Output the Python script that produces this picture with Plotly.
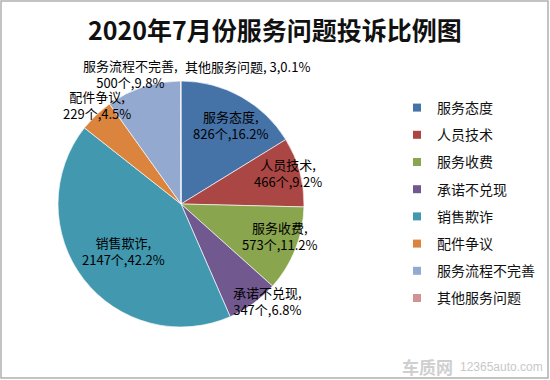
import math
import plotly.graph_objects as go

# ---- data ----
categories = ["服务态度", "人员技术", "服务收费", "承诺不兑现", "销售欺诈", "配件争议", "服务流程不完善", "其他服务问题"]
counts = [826, 466, 573, 347, 2147, 229, 500, 3]
percents = [16.2, 9.2, 11.2, 6.8, 42.2, 4.5, 9.8, 0.1]
title_text = "2020年7月份服务问题投诉比例图"

# ---- style ----
colors = ["#4572A7", "#AA4643", "#89A54E", "#71588F", "#4198AF", "#DB843D", "#93A9CF", "#D19392"]
W, H = 550, 380
CX, CY, R = 181, 204, 123          # pie centre / radius in pixels
label_k = [0.76, 0.90, 0.84, 1.05, 0.64, 1.06, 1.12, 1.12]   # radial position of labels (fraction of R)
label_shift = [(4, 3), (0, -2), (3, -6), (11, -8), (5, -1), (6, -5), (-8, 1), (2, 0)]
label_anchor = ["center"] * 7 + ["left"]
FONT = "Noto Sans CJK SC"

fig = go.Figure()

fig.add_trace(go.Pie(
    labels=categories,
    values=counts,
    sort=False,
    direction="clockwise",
    rotation=0,
    marker=dict(colors=colors, line=dict(color="rgba(255,255,255,0.8)", width=0.8)),
    textinfo="none",
    textposition="none",
    hoverinfo="label+value+percent",
    showlegend=False,
    domain=dict(x=[(CX - R) / W, (CX + R) / W], y=[1 - (CY + R) / H, 1 - (CY - R) / H]),
))

# legend entries (one per category, so that spacing can be set)
for name, col in zip(categories, colors):
    fig.add_trace(go.Scatter(
        x=[None], y=[None], mode="markers", name=name, legendgroup=name,
        marker=dict(symbol="square", size=8, color=col), hoverinfo="skip",
    ))

# data labels, positioned from the slice angles
total = sum(counts)
cum = 0
annotations = []
for i, (name, v, p) in enumerate(zip(categories, counts, percents)):
    mid = (cum + v / 2) / total * 2 * math.pi
    cum += v
    px = CX + label_k[i] * R * math.sin(mid) + label_shift[i][0]
    py = CY - label_k[i] * R * math.cos(mid) + label_shift[i][1]
    if i == len(categories) - 1:
        txt = f"{name}, {v},{p}%"
    else:
        txt = f"{name},<br>{v}个,{p}%"
    annotations.append(dict(
        x=px / W, y=1 - py / H, xref="paper", yref="paper",
        text=txt, showarrow=False, xanchor=label_anchor[i], yanchor="middle",
        align="center", font=dict(family=FONT, size=13, color="#000000"),
    ))

# watermark
annotations.append(dict(x=455 / W, y=1 - 366 / H, xref="paper", yref="paper", text="<b>车质网</b>",
                        showarrow=False, xanchor="right", yanchor="middle",
                        font=dict(family=FONT, size=17, color="#cfcfcf")))
annotations.append(dict(x=458 / W, y=1 - 367 / H, xref="paper", yref="paper", text="12365auto.com",
                        showarrow=False, xanchor="left", yanchor="middle",
                        font=dict(family="Liberation Sans", size=12, color="#c8c8c8")))

fig.update_layout(
    width=W, height=H,
    margin=dict(l=0, r=0, t=0, b=0),
    paper_bgcolor="white", plot_bgcolor="white",
    title=dict(text=f"<b>{title_text}</b>", x=0.5, xanchor="center", y=1 - 31 / H, yanchor="middle",
               font=dict(family=FONT, size=25, color="#111111")),
    xaxis=dict(visible=False), yaxis=dict(visible=False),
    legend=dict(x=397 / W, y=1 - 92 / H, xanchor="left", yanchor="top",
                tracegroupgap=6, font=dict(family=FONT, size=14, color="#111111"),
                bgcolor="rgba(0,0,0,0)", itemclick=False),
    annotations=annotations,
    shapes=[dict(type="rect", xref="paper", yref="paper", x0=1 / W, y0=1 - 378 / H, x1=548 / W, y1=1 - 1 / H,
                 line=dict(color="#b0b0b0", width=1.5))],
)

fig.write_html("out.html",
               config={"displayModeBar": False},
               post_script="document.body.style.margin='0';document.body.style.padding='0';"
                           "document.documentElement.style.overflow='hidden';")
